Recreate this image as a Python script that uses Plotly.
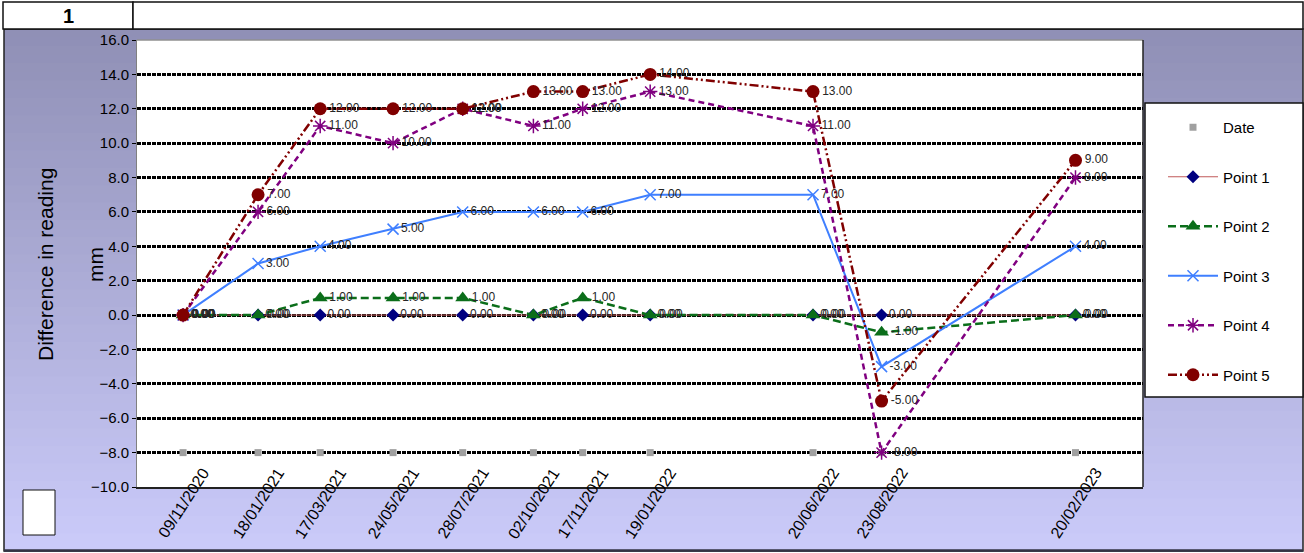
import plotly.graph_objects as go
import pandas as pd

# ---------------- data ----------------
date_labels = ["09/11/2020", "18/01/2021", "17/03/2021", "24/05/2021", "28/07/2021",
               "02/10/2021", "17/11/2021", "19/01/2022", "20/06/2022", "23/08/2022",
               "20/02/2023"]
date_marker_level = [-8, -8, -8, -8, -8, -8, -8, -8, -8, -8, -8]
point1 = [0, 0, 0, 0, 0, 0, 0, 0, 0, 0, 0]
point2 = [0, 0, 1, 1, 1, 0, 1, 0, 0, -1, 0]
point3 = [0, 3, 4, 5, 6, 6, 6, 7, 7, -3, 4]
point4 = [0, 6, 11, 10, 12, 11, 12, 13, 11, -8, 8]
point5 = [0, 7, 12, 12, 12, 13, 13, 14, 13, -5, 9]
y_ticks = [-10, -8, -6, -4, -2, 0, 2, 4, 6, 8, 10, 12, 14, 16]

dates = pd.to_datetime(date_labels, dayfirst=True)

W, H = 1304, 553
PL, PR, PT, PB = 137, 1143, 40, 487  # plot area in pixels


def px(x):
    return (x - PL) / (PR - PL)


def py(y):
    return (PB - y) / (PB - PT)


fig = go.Figure()

lab_font = dict(family="Arial", size=12, color="#262626")

fig.add_trace(go.Scatter(
    x=dates, y=date_marker_level, name="Date", mode="markers",
    marker=dict(symbol="square", size=7, color="#a0a0a0"),
    legendgroup="g0", cliponaxis=False))

fig.add_trace(go.Scatter(
    x=dates, y=point1, name="Point 1", mode="lines+markers+text",
    line=dict(color="#c05a5a", width=1),
    marker=dict(symbol="diamond", size=10, color="#000080"),
    text=[f"{v:.2f}" for v in point1], textposition="middle right",
    textfont=lab_font, legendgroup="g1", cliponaxis=False))

fig.add_trace(go.Scatter(
    x=dates, y=point2, name="Point 2", mode="lines+markers+text",
    line=dict(color="#0b6e1a", width=2.5, dash="8px,4px"),
    marker=dict(symbol="triangle-up", size=13, color="#0b6e1a"),
    text=[f"{v:.2f}" for v in point2], textposition="middle right",
    textfont=lab_font, legendgroup="g2", cliponaxis=False))

fig.add_trace(go.Scatter(
    x=dates, y=point3, name="Point 3", mode="lines+markers+text",
    line=dict(color="#3f7fff", width=2),
    marker=dict(symbol="x-thin", size=11, color="#3f7fff",
                line=dict(color="#3f7fff", width=1.5)),
    text=[f"{v:.2f}" for v in point3], textposition="middle right",
    textfont=lab_font, legendgroup="g3", cliponaxis=False))

fig.add_trace(go.Scatter(
    x=dates, y=point4, name="Point 4", mode="lines+markers+text",
    line=dict(color="#800080", width=2.5, dash="6px,4px"),
    marker=dict(symbol="asterisk-open", size=12, color="#800080",
                line=dict(color="#800080", width=1.5)),
    text=[f"{v:.2f}" for v in point4], textposition="middle right",
    textfont=lab_font, legendgroup="g4", cliponaxis=False))

fig.add_trace(go.Scatter(
    x=dates, y=point5, name="Point 5", mode="lines+markers+text",
    line=dict(color="#800000", width=2.5, dash="9px,3px,2px,3px,2px,3px"),
    marker=dict(symbol="circle", size=13, color="#800000"),
    text=[f"{v:.2f}" for v in point5], textposition="middle right",
    textfont=lab_font, legendgroup="g5", cliponaxis=False))

# ---------------- background shapes ----------------
shapes = []
top_c = (143, 143, 181)
bot_c = (203, 203, 250)
y0, y1 = 29, 551
n = 60
for i in range(n):
    a = y0 + (y1 - y0) * i / n
    b = y0 + (y1 - y0) * (i + 1) / n
    t = (i + 0.5) / n
    c = tuple(round(top_c[k] + (bot_c[k] - top_c[k]) * t) for k in range(3))
    shapes.append(dict(type="rect", xref="paper", yref="paper", layer="below",
                       x0=px(4), x1=px(1303), y0=py(b) - 0.001, y1=py(a) + 0.001,
                       fillcolor="rgb(%d,%d,%d)" % c, line=dict(width=0)))
# plot area white
shapes.append(dict(type="rect", xref="paper", yref="paper", layer="below",
                   x0=0, x1=1, y0=0, y1=1, fillcolor="white", line=dict(width=0)))
# plot area top (grey) and right (black) borders
shapes.append(dict(type="line", xref="paper", yref="paper", layer="below",
                   x0=0, x1=1, y0=1, y1=1, line=dict(color="#909090", width=1.5)))
shapes.append(dict(type="line", xref="paper", yref="paper", layer="below",
                   x0=1, x1=1, y0=0, y1=1, line=dict(color="#222222", width=1.5)))
# outer border of chart area
shapes.append(dict(type="rect", xref="paper", yref="paper", layer="below",
                   x0=px(4), x1=px(1303), y0=py(551), y1=py(29),
                   fillcolor="rgba(0,0,0,0)", line=dict(color="#222222", width=1.5)))
shapes.append(dict(type="line", xref="paper", yref="paper", layer="below",
                   x0=px(4), x1=px(1303), y0=py(550.5), y1=py(550.5),
                   line=dict(color="#333344", width=2.5)))
# header boxes
shapes.append(dict(type="rect", xref="paper", yref="paper", layer="below",
                   x0=px(3), x1=px(133), y0=py(29), y1=py(2),
                   fillcolor="white", line=dict(color="#111111", width=1.5)))
shapes.append(dict(type="rect", xref="paper", yref="paper", layer="below",
                   x0=px(133), x1=px(1303), y0=py(29), y1=py(2),
                   fillcolor="white", line=dict(color="#111111", width=1.5)))
# small white box bottom-left
shapes.append(dict(type="rect", xref="paper", yref="paper", layer="below",
                   x0=px(23), x1=px(55), y0=py(535), y1=py(490),
                   fillcolor="white", line=dict(color="#111111", width=1)))
# legend box
shapes.append(dict(type="rect", xref="paper", yref="paper", layer="below",
                   x0=px(1145), x1=px(1303), y0=py(397), y1=py(103),
                   fillcolor="white", line=dict(color="#111111", width=1.5)))

annotations = [
    dict(text="<b>1</b>", xref="paper", yref="paper", x=px(68), y=py(16),
         showarrow=False, font=dict(family="Arial", size=20, color="black"),
         xanchor="center", yanchor="middle"),
    dict(text="Difference in reading", xref="paper", yref="paper", x=px(45), y=py(265),
         showarrow=False, textangle=-90, font=dict(family="Arial", size=21, color="black"),
         xanchor="center", yanchor="middle"),
    dict(text="mm", xref="paper", yref="paper", x=px(95), y=py(265),
         showarrow=False, textangle=-90, font=dict(family="Arial", size=21, color="black"),
         xanchor="center", yanchor="middle"),
]
# rotated date labels (x-axis tick labels)
for d, lab in zip(dates, date_labels):
    annotations.append(dict(text=lab, xref="x", yref="paper", x=d, y=py(503),
                            showarrow=False, textangle=-57,
                            font=dict(family="Arial", size=16, color="black"),
                            xanchor="center", yanchor="middle", xshift=0))

fig.update_layout(
    width=W, height=H,
    margin=dict(l=PL, r=W - PR, t=PT, b=H - PB, pad=0, autoexpand=False),
    paper_bgcolor="white", plot_bgcolor="rgba(0,0,0,0)",
    font=dict(family="Arial", color="black"),
    shapes=shapes, annotations=annotations,
    showlegend=True,
    legend=dict(x=px(1163), y=py(111), xanchor="left", yanchor="top",
                bgcolor="rgba(0,0,0,0)", borderwidth=0,
                font=dict(family="Arial", size=15, color="black"),
                tracegroupgap=27, itemwidth=50),
    xaxis=dict(type="date", range=["2020-09-27", "2023-04-24"], automargin=False,
               tickvals=dates, showticklabels=False,
               showgrid=False, zeroline=False, showline=True, mirror=False,
               linecolor="#222222", linewidth=1.5, ticks=""),
    yaxis=dict(range=[-10, 16], tickvals=y_ticks, tickformat=".1f", automargin=False,
               tickfont=dict(family="Arial", size=15, color="black"),
               showgrid=True, gridcolor="black", gridwidth=2.5, griddash="4px,1px",
               zeroline=False, showline=True, mirror=False,
               linecolor="#808080", linewidth=1,
               ticks="outside", ticklen=4, tickcolor="black"),
)

fig.write_html("out.html", config={"displayModeBar": False},
               post_script="document.body.style.margin='0';document.body.style.overflow='hidden';")
